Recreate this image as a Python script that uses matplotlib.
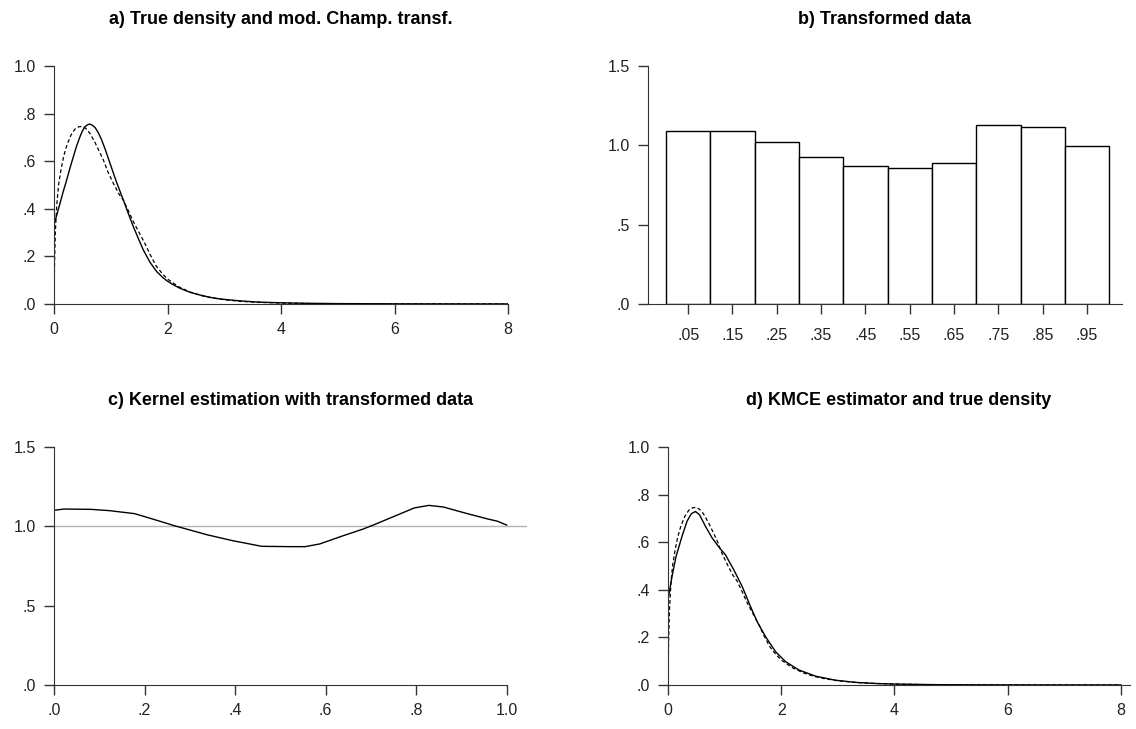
import numpy as np
import matplotlib
matplotlib.use("Agg")
import matplotlib.pyplot as plt

plt.rcParams['font.family'] = ['Liberation Sans', 'DejaVu Sans']

# true density (dashed, panels a and d)
true_x = [0, 0.01, 0.025, 0.05, 0.08, 0.12, 0.17, 0.23, 0.30, 0.37, 0.44, 0.50,
          0.56, 0.63, 0.72, 0.80, 0.87, 0.95, 1.05, 1.15, 1.22, 1.30, 1.40, 1.50,
          1.60, 1.70, 1.80, 1.90, 2.00, 2.20, 2.40, 2.60, 2.80, 3.00, 3.30, 3.60,
          4.00, 4.50, 5.00, 6.00, 7.00, 8.00]
true_y = [0, 0.18, 0.31, 0.42, 0.50, 0.56, 0.62, 0.67, 0.71, 0.735, 0.745, 0.746,
          0.738, 0.718, 0.68, 0.64, 0.605, 0.555, 0.505, 0.46, 0.437, 0.397, 0.345, 0.30,
          0.255, 0.205, 0.16, 0.13, 0.105, 0.072, 0.05, 0.035, 0.025, 0.018, 0.011, 0.007,
          0.004, 0.002, 0.001, 0.0004, 0.0002, 0.0001]

# modified Champernowne density (solid, panel a)
champ_x = [0, 0.05, 0.106, 0.16, 0.223, 0.28, 0.341, 0.40, 0.458, 0.50, 0.546, 0.59,
           0.623, 0.67, 0.722, 0.78, 0.84, 0.91, 0.987, 1.10, 1.222, 1.31, 1.398, 1.49,
           1.574, 1.69, 1.81, 1.90, 1.986, 2.10, 2.22, 2.40, 2.57, 2.75, 2.93, 3.28,
           3.60, 4.00, 4.50, 5.00, 6.00, 7.00, 8.00]
champ_y = [0.332, 0.375, 0.423, 0.47, 0.521, 0.57, 0.619, 0.665, 0.703, 0.727, 0.745, 0.753,
           0.756, 0.752, 0.742, 0.72, 0.689, 0.645, 0.591, 0.513, 0.437, 0.38, 0.325, 0.273,
           0.227, 0.176, 0.136, 0.115, 0.098, 0.081, 0.066, 0.049, 0.038, 0.028, 0.021, 0.013,
           0.008, 0.005, 0.0028, 0.0017, 0.0007, 0.0003, 0.0002]

# histogram of transformed data (panel b)
bin_left = [0.0, 0.1, 0.2, 0.3, 0.4, 0.5, 0.6, 0.7, 0.8, 0.9]
bin_height = [1.088, 1.088, 1.019, 0.928, 0.868, 0.859, 0.887, 1.126, 1.117, 0.998]
bin_labels = ['.05', '.15', '.25', '.35', '.45', '.55', '.65', '.75', '.85', '.95']

# kernel estimate on transformed scale (panel c)
kern_x = [0, 0.022, 0.082, 0.122, 0.178, 0.218, 0.266, 0.338, 0.394, 0.459, 0.523, 0.555,
          0.587, 0.635, 0.683, 0.707, 0.755, 0.796, 0.828, 0.860, 0.908, 0.956, 0.980, 1.0]
kern_y = [1.101, 1.109, 1.107, 1.099, 1.08, 1.046, 1.004, 0.947, 0.91, 0.874, 0.872, 0.872,
          0.889, 0.937, 0.983, 1.01, 1.067, 1.116, 1.132, 1.122, 1.084, 1.048, 1.032, 1.008]

# KMCE estimator (solid, panel d)
kmce_x = [0, 0.071, 0.142, 0.248, 0.336, 0.413, 0.484, 0.555, 0.661, 0.779, 0.897, 1.015,
          1.162, 1.31, 1.457, 1.575, 1.723, 1.90, 2.077, 2.313, 2.608, 2.96, 3.316,
          3.7, 4.0, 4.5, 5.0, 6.0, 7.0, 8.0]
kmce_y = [0.358, 0.456, 0.54, 0.625, 0.688, 0.72, 0.729, 0.716, 0.667, 0.618, 0.58, 0.547,
          0.484, 0.414, 0.33, 0.266, 0.203, 0.14, 0.098, 0.063, 0.037, 0.02, 0.011,
          0.006, 0.004, 0.002, 0.001, 0.0004, 0.0002, 0.0001]


def fmt(v):
    # ".5", "1.0", ".0" style labels
    s = f"{v:.2f}".rstrip('0') if v % 1 else f"{v:.1f}"
    if s.endswith('.'):
        s += '0'
    if s.startswith('0.'):
        s = s[1:]
    return s


def style(ax, xticks, yticks, xlim, ylim):
    for side in ['top', 'right']:
        ax.spines[side].set_visible(False)
    ax.spines['left'].set_color('#333333')
    ax.spines['bottom'].set_color('#333333')
    ax.set_xlim(*xlim)
    ax.set_ylim(*ylim)
    ax.set_yticks(yticks)
    ax.set_yticklabels([fmt(v) for v in yticks])
    ax.set_xticks(xticks)
    ax.tick_params(direction='out', length=7, width=1, color='#333333',
                   labelsize=11.5, pad=6, labelcolor='#222222')


fig = plt.figure(figsize=(11.36, 7.29), dpi=100)
W, H = 1136, 729


def axes_at(l, r, top, bottom):
    return fig.add_axes([l / W, (H - bottom) / H, (r - l) / W, (bottom - top) / H])


title_kw = dict(fontsize=13, fontweight='bold', pad=30)
solid_kw = dict(color='black', lw=1.0)
dash_kw = dict(color='black', lw=0.9, ls=(0, (3, 2)))

# a)
ax = axes_at(54, 508, 66, 304)
ax.plot(champ_x, champ_y, **solid_kw)
ax.plot(true_x, true_y, **dash_kw)
style(ax, [0, 2, 4, 6, 8], [0, 0.2, 0.4, 0.6, 0.8, 1.0], (0, 8), (0, 1.0))
ax.set_xticklabels(['0', '2', '4', '6', '8'])
ax.set_title('a) True density and mod. Champ. transf.', **title_kw)

# b)
ax = axes_at(648, 1122, 66, 304)
ax.bar(bin_left, bin_height, width=0.1, align='edge', color='white',
       edgecolor='black', linewidth=1.0)
centers = [b + 0.05 for b in bin_left]
style(ax, centers, [0, 0.5, 1.0, 1.5], (-0.0406, 1.029), (0, 1.5))
ax.set_xticklabels(bin_labels)
ax.tick_params(axis='x', pad=10)
ax.set_title('b) Transformed data', **title_kw)

# c)
ax = axes_at(54, 527, 447, 685)
ax.axhline(1.0, color='#b4b4b4', lw=1.0)
ax.plot(kern_x, kern_y, **solid_kw)
cx = [0, 0.2, 0.4, 0.6, 0.8, 1.0]
style(ax, cx, [0, 0.5, 1.0, 1.5], (0, 1.045), (0, 1.5))
ax.set_xticklabels([fmt(v) for v in cx])
ax.spines['bottom'].set_bounds(0, 1.0)
ax.set_title('c) Kernel estimation with transformed data', **title_kw)

# d)
ax = axes_at(668, 1130, 447, 685)
ax.plot(kmce_x, kmce_y, **solid_kw)
ax.plot(true_x, true_y, **dash_kw)
style(ax, [0, 2, 4, 6, 8], [0, 0.2, 0.4, 0.6, 0.8, 1.0], (0, 8.16), (0, 1.0))
ax.set_xticklabels(['0', '2', '4', '6', '8'])
ax.set_title('d) KMCE estimator and true density', **title_kw)

fig.savefig('out.png', dpi=100)
